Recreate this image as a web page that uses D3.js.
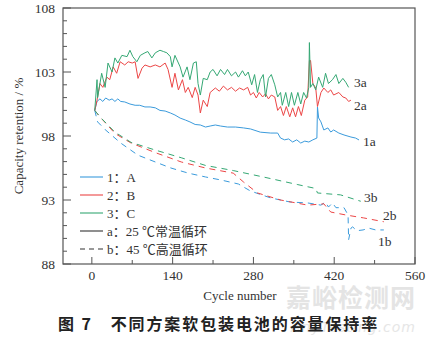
<!DOCTYPE html>
<html><head><meta charset="utf-8">
<script src="https://cdn.jsdelivr.net/npm/d3@7"></script>
<style>
body{margin:0;background:#fff;}
svg{display:block;}
</style></head>
<body>
<svg id="chart" width="433" height="337"></svg>
<script>
// ---- data (cycle, capacity retention %) ----
const xTicks = [0, 140, 280, 420, 560];
const yTicks = [88, 93, 98, 103, 108];
const legendLabels = ["1：A", "2：B", "3：C", "a：25 ℃常温循环", "b：45 ℃高温循环"];

const s3a = [[5,100.0],[9,102.4],[10,101.0],[17,102.9],[23,101.8],[28,103.7],[35,103.0],[40,104.1],[45,103.7],[52,104.3],[61,104.2],[66,104.7],[71,104.2],[78,103.8],[84,104.3],[92,104.5],[97,104.6],[104,104.1],[110,104.5],[118,104.7],[124,104.6],[130,104.5],[136,104.2],[139,103.4],[144,104.3],[153,103.4],[158,102.6],[165,103.4],[170,102.4],[176,103.7],[181,103.8],[184,102.1],[188,101.2],[193,102.5],[200,102.4],[205,103.0],[210,103.2],[217,102.7],[223,103.2],[230,102.8],[235,103.2],[242,102.7],[249,103.0],[254,102.6],[261,103.1],[266,102.7],[271,103.0],[277,102.0],[282,102.8],[287,101.4],[292,102.4],[297,102.8],[301,101.05],[306,102.5],[311,102.8],[317,102.0],[322,101.05],[327,101.4],[330,100.4],[336,101.4],[341,100.3],[346,101.4],[351,100.4],[357,101.4],[362,100.5],[367,101.4],[372,100.97],[376,101.8],[377,105.3],[379,101.8],[383,102.1],[388,101.6],[393,102.6],[400,101.8],[405,102.9],[410,102.1],[417,102.4],[423,102.8],[428,102.1],[435,102.5],[440,102.2],[445,101.8]];

const s2a = [[5,100.0],[9,100.8],[14,102.1],[19,101.8],[26,102.6],[31,102.4],[37,103.4],[43,102.9],[49,103.8],[57,103.55],[63,103.8],[70,103.7],[75,103.8],[80,102.5],[87,103.3],[92,103.55],[101,103.4],[110,103.55],[118,103.4],[127,103.7],[132,103.2],[139,101.8],[144,102.9],[150,101.6],[157,102.4],[162,101.4],[167,101.8],[174,101.0],[179,101.8],[184,101.2],[188,99.8],[193,100.8],[200,100.3],[205,101.4],[214,101.75],[221,101.5],[228,101.9],[235,101.6],[242,101.8],[249,101.5],[256,101.75],[263,101.6],[270,101.8],[275,101.2],[280,101.4],[285,100.97],[290,101.4],[296,101.05],[301,101.3],[306,100.9],[311,101.2],[317,101.05],[322,100.0],[327,100.3],[332,99.6],[337,100.3],[343,99.5],[348,100.2],[353,99.5],[358,100.3],[363,99.6],[369,100.8],[374,101.05],[377,103.9],[379,103.9],[383,102.1],[388,101.75],[391,100.3],[397,101.4],[402,101.75],[409,101.4],[414,101.6],[419,101.2],[428,101.4],[435,101.05],[440,100.97],[445,100.7],[449,100.8]];

const s1a = [[5,100.0],[9,100.7],[14,100.9],[19,100.7],[24,100.97],[30,100.8],[35,100.9],[40,100.7],[45,100.9],[50,100.7],[57,100.66],[66,100.5],[75,100.4],[83,100.4],[92,100.27],[101,100.27],[110,100.2],[118,100.0],[127,99.95],[136,99.8],[144,99.64],[153,99.4],[162,99.25],[170,99.1],[179,98.9],[188,98.86],[197,98.7],[205,98.78],[214,98.86],[223,98.78],[235,98.7],[249,98.7],[263,98.63],[275,98.55],[292,98.3],[310,98.23],[322,98.23],[327,97.84],[334,97.7],[341,97.77],[348,97.53],[355,97.7],[362,97.45],[369,97.6],[376,97.53],[383,97.7],[390,97.84],[391,100.27],[393,99.41],[397,99.1],[402,98.47],[409,98.63],[414,98.31],[419,98.47],[428,98.23],[437,98.08],[449,97.92],[457,97.84],[463,97.69]];

const s3b = [[5,100.0],[14,99.5],[40,98.3],[68,97.5],[110,96.9],[155,96.3],[197,95.7],[245,95.3],[297,94.8],[357,94.2],[388,93.9],[391,93.55],[431,93.4],[466,92.9]];

const s2b = [[5,100.0],[14,99.5],[40,98.2],[68,97.45],[110,96.7],[155,95.97],[197,95.5],[245,95.1],[263,94.4],[287,93.55],[327,93.0],[374,92.6],[402,92.7],[414,92.06],[440,91.83],[471,91.6],[506,91.3]];

const s1b = [[5,100.0],[10,99.1],[23,98.5],[50,97.45],[80,96.5],[110,95.97],[137,95.5],[167,95.1],[197,94.8],[224,94.56],[254,94.25],[275,93.7],[310,93.16],[344,92.84],[374,92.77],[397,92.6],[405,92.84],[410,92.45],[417,92.77],[423,92.4],[437,92.4],[444,91.83],[445,89.9],[449,90.8],[452,90.9],[459,90.6],[470,90.66],[480,90.8],[492,90.66],[506,90.66]];

// ---- layout ----
const svg = d3.select("#chart");
const L = 63, R = 415, T = 8, B = 264;
const x = d3.scaleLinear().domain([-50, 560]).range([L, R]);
const y = d3.scaleLinear().domain([88, 108]).range([B, T]);
const C = {blue:"#3b9bdc", red:"#ec4646", green:"#35a874", ink:"#333"};
const serif = "'Liberation Serif','DejaVu Serif',serif";
const cjk = "'Liberation Serif','Noto Sans CJK SC',serif";

// watermark (behind everything)
svg.append("text").attr("x", 351).attr("y", 307).attr("text-anchor", "middle")
  .attr("font-family", "'Noto Sans CJK SC',sans-serif").attr("font-weight", "bold").attr("font-size", 25)
  .attr("letter-spacing", 1).attr("fill", "#e4e4e4").text("嘉峪检测网");
svg.append("text").attr("x", 416).attr("y", 332).attr("text-anchor", "end")
  .attr("font-family", "'DejaVu Sans',sans-serif").attr("font-style", "italic").attr("font-size", 14)
  .attr("letter-spacing", 1).attr("fill", "#e6e6e6").text("AnyTesting.com");

// ticks (inward)
const g = svg.append("g").attr("stroke", "#555").attr("stroke-width", 1);
d3.range(88, 109, 1).forEach(v => {
  const len = (v % 5 === 3) ? 8 : 4;
  g.append("line").attr("x1", L).attr("x2", L + len).attr("y1", y(v)).attr("y2", y(v));
});
d3.range(0, 561, 70).forEach(v => {
  const len = (v % 140 === 0) ? 7 : 4;
  g.append("line").attr("x1", x(v)).attr("x2", x(v)).attr("y1", B).attr("y2", B - len);
});
// frame
svg.append("rect").attr("x", L).attr("y", T).attr("width", R - L).attr("height", B - T)
  .attr("fill", "none").attr("stroke", "#555").attr("stroke-width", 1.2);

// tick labels
svg.append("g").selectAll("text").data(yTicks).join("text")
  .attr("x", L - 8).attr("y", d => y(d) + 4.5).attr("text-anchor", "end")
  .attr("font-family", serif).attr("font-size", 13.5).attr("fill", C.ink).text(d => d);
svg.append("g").selectAll("text").data(xTicks).join("text")
  .attr("x", d => x(d)).attr("y", 280).attr("text-anchor", "middle")
  .attr("font-family", serif).attr("font-size", 13.5).attr("fill", C.ink).text(d => d);

// axis titles
svg.append("text").attr("transform", `translate(23,${(T + B) / 2}) rotate(-90)`)
  .attr("text-anchor", "middle").attr("font-family", serif).attr("font-size", 13)
  .attr("fill", C.ink).text("Capacity retention / %");
svg.append("text").attr("x", 240).attr("y", 300).attr("text-anchor", "middle")
  .attr("font-family", serif).attr("font-size", 13).attr("fill", C.ink).text("Cycle number");

// lines
const line = d3.line().x(d => x(d[0])).y(d => y(d[1]));
const series = [
  {d: s1b, c: C.blue, dash: true}, {d: s2b, c: C.red, dash: true}, {d: s3b, c: C.green, dash: true},
  {d: s1a, c: C.blue}, {d: s2a, c: C.red}, {d: s3a, c: C.green}
];
series.forEach(s => {
  svg.append("path").attr("d", line(s.d)).attr("fill", "none").attr("stroke", s.c)
    .attr("stroke-width", 1).attr("stroke-dasharray", s.dash ? "6,5" : null)
    .attr("stroke-linejoin", "round");
});

// series labels
const labs = [["3a", 354, 82], ["2a", 354, 105], ["1a", 363, 141], ["3b", 364, 197], ["2b", 383, 215], ["1b", 378, 241]];
labs.forEach(l => svg.append("text").attr("x", l[1]).attr("y", l[2] + 4.5)
  .attr("font-family", serif).attr("font-size", 13.5).attr("fill", C.ink).text(l[0]));

// legend
const legColors = [C.blue, C.red, C.green, "#333", "#333"];
const legY = [177, 195, 213, 231, 249];
legendLabels.forEach((t, i) => {
  svg.append("line").attr("x1", 80).attr("x2", 103).attr("y1", legY[i]).attr("y2", legY[i])
    .attr("stroke", legColors[i]).attr("stroke-width", 1.1)
    .attr("stroke-dasharray", i === 4 ? "5,4" : null);
  svg.append("text").attr("x", 107).attr("y", legY[i] + 4.5)
    .attr("font-family", cjk).attr("font-size", 13).attr("fill", C.ink).text(t);
});

// title
svg.append("text").attr("x", 58).attr("y", 330)
  .attr("font-family", "'Noto Sans CJK SC',sans-serif").attr("font-weight", "bold")
  .attr("font-size", 16).attr("letter-spacing", 1.9).attr("fill", "#222")
  .text("图 7　不同方案软包装电池的容量保持率");
</script>
</body></html>
